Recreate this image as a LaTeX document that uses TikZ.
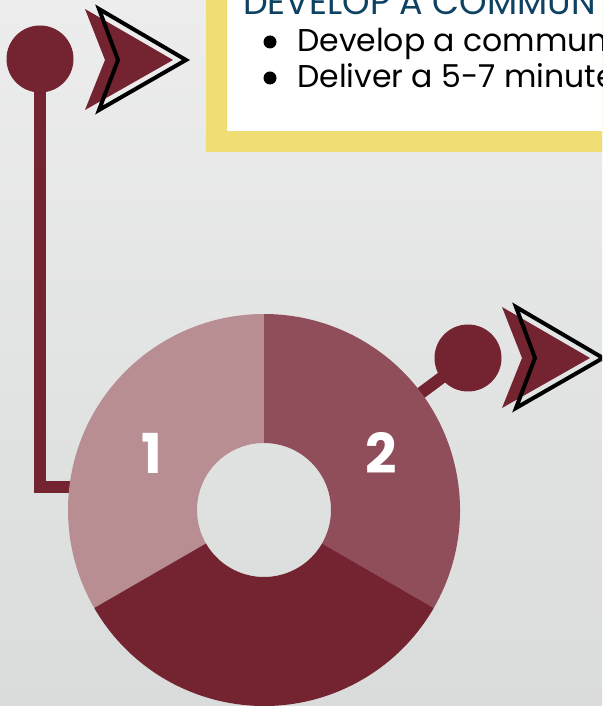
\documentclass[tikz,border=0pt]{standalone}
\usepackage{fontspec}
\setmainfont{Poppins}
\usepackage{xcolor}
\usepackage{tikz}
\usetikzlibrary{positioning,calc}

\definecolor{maroon}{RGB}{116,35,49}
\definecolor{segmid}{RGB}{144,78,91}
\definecolor{seglight}{RGB}{184,142,147}
\definecolor{bgtop}{RGB}{236,237,236}
\definecolor{bgbot}{RGB}{217,220,219}
\definecolor{boxyellow}{RGB}{240,221,116}
\definecolor{titleblue}{RGB}{14,66,99}

\begin{document}
\begin{tikzpicture}[x=1pt, y=1pt,
    pin/.style={circle, fill=maroon, minimum size=67pt, inner sep=0pt},
    wire/.style={draw=maroon, line width=12pt},
    num/.style={text=white, font=\fontsize{55}{55}\selectfont\bfseries, anchor=base},
    item/.style={font=\fontsize{31.5}{31.5}\selectfont, anchor=base west, inner sep=0pt}]
    \useasboundingbox (0,0) rectangle (602,706);
    \clip (0,0) rectangle (602,706);
    \shade [top color=bgtop, bottom color=bgbot] (0,0) rectangle (602,706);

    % text box
    \fill [boxyellow] (206,554) rectangle (650,740);
    \fill [white] (227,575) rectangle (650,740);
    \node [item, text=titleblue, font=\fontsize{35}{35}\selectfont] (title) at (243,691) {DEVELOP A COMMUN};
    \node [item] (line1) at (297,654) {Develop a commun};
    \node [item] (line2) at (297,618) {Deliver a 5-7 minute};
    \fill (270,664) circle (6.5);
    \fill (270,628) circle (6.5);

    % pins and wires
    \coordinate (donut) at (264,196);
    \node [pin] (pinA) at (40,647) {};
    \node [pin] (pinB) at (468,348) {};
    \coordinate (bend) at (40,219);
    \coordinate (inA) at (120,219);
    \coordinate (inB) at ($(donut)!130pt!(pinB)$);
    \draw [wire] (pinA.center) -- (bend) -- (inA);
    \draw [wire] (pinB.center) -- (inB);

    % donut
    \foreach \col/\a/\b in {seglight/90/210, segmid/-30/90, maroon/210/330}
        \fill [\col] ($(donut)+(\a:196)$) arc [start angle=\a, end angle=\b, radius=196]
            -- ($(donut)+(\b:67)$) arc [start angle=\b, end angle=\a, radius=67] -- cycle;
    \node [num] (one) at (152,232) {1};
    \node [num] (two) at (381,232) {2};

    % chevrons
    \foreach \dx/\dy in {0/0, 417/-298} {
        \begin{scope}[shift={(\dx,\dy)}]
            \fill [maroon] (85,697) -- (105,646) -- (85,596) -- (173,646) -- cycle;
            \draw [black, line width=4pt] (99,697) -- (118,646) -- (99,596) -- (186,646) -- cycle;
        \end{scope}
    }
\end{tikzpicture}
\end{document}
